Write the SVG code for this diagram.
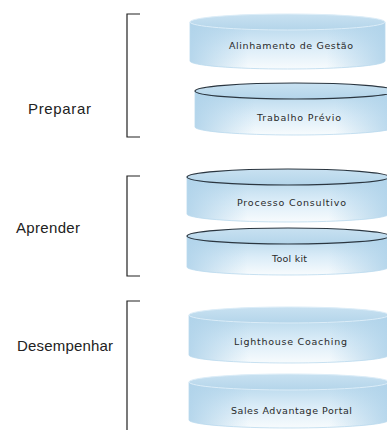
<svg xmlns="http://www.w3.org/2000/svg" width="387" height="430" viewBox="0 0 387 430">
<defs>
<linearGradient id="bodyv" x1="0" y1="0" x2="0" y2="1">
<stop offset="0" stop-color="#b4d6eb"/>
<stop offset="0.55" stop-color="#dcedf8"/>
<stop offset="1" stop-color="#f7fbfd"/>
</linearGradient>
<linearGradient id="bodyh" x1="0" y1="0" x2="1" y2="0">
<stop offset="0" stop-color="#b0d3ea" stop-opacity="0.9"/>
<stop offset="0.3" stop-color="#b0d3ea" stop-opacity="0"/>
<stop offset="0.7" stop-color="#b0d3ea" stop-opacity="0"/>
<stop offset="1" stop-color="#b0d3ea" stop-opacity="0.9"/>
</linearGradient>
<linearGradient id="top" x1="0" y1="0" x2="0" y2="1">
<stop offset="0" stop-color="#c8e1f1"/>
<stop offset="1" stop-color="#b4d5ea"/>
</linearGradient>
<style>
.body{fill:url(#bodyv);stroke:none}
.bodyh{fill:url(#bodyh);stroke:#bad9ed;stroke-width:0.8}
.top{fill:url(#top);stroke:#dcedf8;stroke-width:1}
.topd{fill:url(#top);stroke:#2b3640;stroke-width:1.2}
.lbl{font-family:"DejaVu Sans",Verdana,sans-serif;font-size:9.5px;fill:#2a2a2a;text-anchor:middle}
.grp{font-family:"Liberation Sans",Arial,sans-serif;font-size:15px;fill:#222}
.br{fill:none;stroke:#222;stroke-width:1.2}
</style>
</defs>
<rect width="387" height="430" fill="#ffffff"/>
<g id="brackets">
<path class="br" d="M140,14 H127 V137 H140"/>
<path class="br" d="M140,176 H127 V276 H140"/>
<path class="br" d="M140,301 H127 V431"/>
</g>
<g id="preparar"><text class="grp" x="28" y="114" textLength="63" lengthAdjust="spacing">Preparar</text></g>
<g id="aprender"><text class="grp" x="16" y="233" textLength="64" lengthAdjust="spacing">Aprender</text></g>
<g id="desempenhar"><text class="grp" x="17" y="351" textLength="96" lengthAdjust="spacing">Desempenhar</text></g>
<g id="alinhamento">
<path class="body" d="M190,22 V61 A97.5,8 0 0 0 385,61 V22 Z"/>
<path class="bodyh" d="M190,22 V61 A97.5,8 0 0 0 385,61 V22 Z"/>
<ellipse class="top" cx="287.5" cy="22" rx="97.5" ry="8"/>
<text class="lbl" x="291" y="49" textLength="124" lengthAdjust="spacing">Alinhamento de Gestão</text>
</g>
<g id="trabalho">
<path class="body" d="M195,91 V127 A100,8 0 0 0 395,127 V91 Z"/>
<path class="bodyh" d="M195,91 V127 A100,8 0 0 0 395,127 V91 Z"/>
<ellipse class="topd" cx="295" cy="91" rx="100" ry="8"/>
<text class="lbl" x="299" y="121" textLength="84" lengthAdjust="spacing">Trabalho Prévio</text>
</g>
<g id="processo">
<path class="body" d="M187,177 V214 A101,8 0 0 0 389,214 V177 Z"/>
<path class="bodyh" d="M187,177 V214 A101,8 0 0 0 389,214 V177 Z"/>
<ellipse class="topd" cx="288" cy="177" rx="101" ry="8"/>
<text class="lbl" x="291.5" y="206" textLength="109" lengthAdjust="spacing">Processo Consultivo</text>
</g>
<g id="toolkit">
<path class="body" d="M187,236 V267 A101,8 0 0 0 389,267 V236 Z"/>
<path class="bodyh" d="M187,236 V267 A101,8 0 0 0 389,267 V236 Z"/>
<ellipse class="topd" cx="288" cy="236" rx="101" ry="8"/>
<text class="lbl" x="289.5" y="262" textLength="35" lengthAdjust="spacing">Tool kit</text>
</g>
<g id="lighthouse">
<path class="body" d="M189,315 V355 A100,8 0 0 0 389,355 V315 Z"/>
<path class="bodyh" d="M189,315 V355 A100,8 0 0 0 389,355 V315 Z"/>
<ellipse class="top" cx="289" cy="315" rx="100" ry="8"/>
<text class="lbl" x="290.5" y="345" textLength="113" lengthAdjust="spacing">Lighthouse Coaching</text>
</g>
<g id="sales">
<path class="body" d="M189,382 V420 A100,8 0 0 0 389,420 V382 Z"/>
<path class="bodyh" d="M189,382 V420 A100,8 0 0 0 389,420 V382 Z"/>
<ellipse class="top" cx="289" cy="382" rx="100" ry="8"/>
<text class="lbl" x="291.5" y="414" textLength="121" lengthAdjust="spacing">Sales Advantage Portal</text>
</g>
</svg>
